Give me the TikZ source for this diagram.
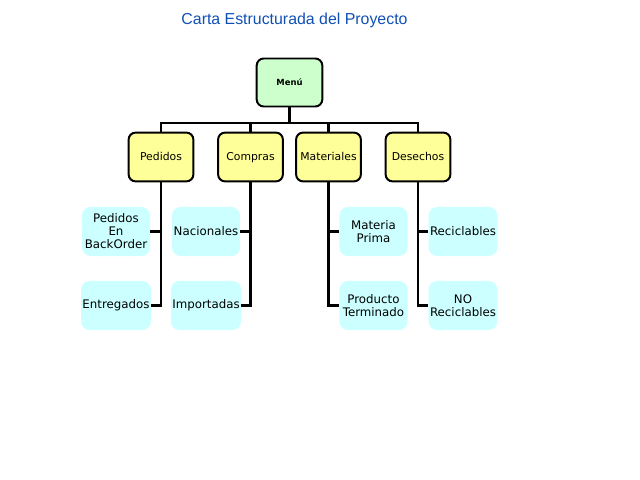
\documentclass[tikz,border=0pt]{standalone}
\usepackage{fontspec}
\setmainfont{DejaVu Sans}
\newfontfamily\titlefont{Liberation Sans}
\definecolor{menugreen}{RGB}{204,255,204}
\definecolor{areayellow}{RGB}{255,255,153}
\definecolor{itemcyan}{RGB}{204,255,255}
\definecolor{titleblue}{RGB}{16,80,180}
\begin{document}
\begin{tikzpicture}[x=0.025cm,y=-0.025cm,
  menubox/.style={draw=black,line width=1.4pt,fill=menugreen,rounded corners=5pt,
    minimum width=1.64cm,minimum height=1.2cm,inner sep=1pt,
    font=\bfseries\fontsize{6}{7}\selectfont},
  areabox/.style={draw=black,line width=1.4pt,fill=areayellow,rounded corners=5pt,
    minimum width=1.62cm,minimum height=1.22cm,inner sep=1pt,
    text height=0.75em,text depth=0.2em,
    font=\fontsize{7.7}{9}\selectfont},
  itembox/.style={fill=itemcyan,rounded corners=6pt,
    minimum width=1.7cm,minimum height=1.225cm,inner sep=1pt,align=center,
    font=\fontsize{8.4}{9.3}\selectfont},
  tree/.style={line width=2pt}]
\useasboundingbox (0,0) rectangle (640,480);

%title
\node[text=titleblue,font=\titlefont\fontsize{11.3}{13}\selectfont] (titulo) at (294.5,20) {Carta Estructurada del Proyecto};

%boxes
\node[menubox] (menu) at (289.5,82.5) {Menú};

\node[areabox] (pedidos) at (161,157) {Pedidos};
\node[areabox] (compras) at (250.5,157) {Compras};
\node[areabox] (materiales) at (328.5,157) {Materiales};
\node[areabox] (desechos) at (418,157) {Desechos};

\node[itembox] (backorder) at (116,231.5) {Pedidos\\En\\BackOrder};
\node[itembox] (entregados) at (116,305.5) {Entregados};
\node[itembox] (nacionales) at (206,231.5) {Nacionales};
\node[itembox] (importadas) at (206,305.5) {Importadas};
\node[itembox] (prima) at (373.5,231.5) {Materia\\Prima};
\node[itembox] (terminado) at (373.5,305.5) {Producto\\Terminado};
\node[itembox] (reciclables) at (463,231.5) {Reciclables};
\node[itembox] (noreciclables) at (463,305.5) {NO\\Reciclables};

%connectors
\coordinate (bus) at (289.5,123);
\draw[tree] (menu.south) -- (bus);
\draw[tree] (pedidos.north) |- (bus) -| (desechos.north);
\draw[tree] (compras.north) -- (compras.north |- bus);
\draw[tree] (materiales.north) -- (materiales.north |- bus);

\draw[tree] (backorder.east) -| (pedidos.south);
\draw[tree] (entregados.east) -| (pedidos.south);
\draw[tree] (nacionales.east) -| (compras.south);
\draw[tree] (importadas.east) -| (compras.south);
\draw[tree] (prima.west) -| (materiales.south);
\draw[tree] (terminado.west) -| (materiales.south);
\draw[tree] (reciclables.west) -| (desechos.south);
\draw[tree] (noreciclables.west) -| (desechos.south);

\end{tikzpicture}
\end{document}
